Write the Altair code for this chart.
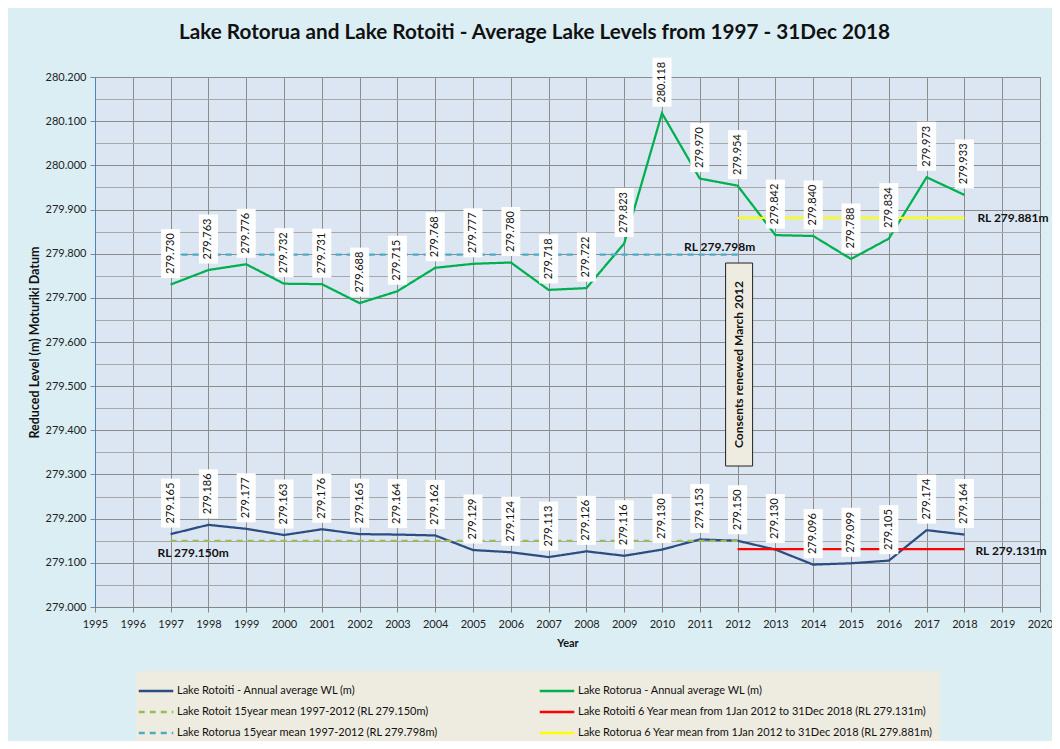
import altair as alt
import pandas as pd

# ---------------- data ----------------
years = list(range(1997, 2019))
rotorua = [279.730, 279.763, 279.776, 279.732, 279.731, 279.688, 279.715, 279.768,
           279.777, 279.780, 279.718, 279.722, 279.823, 280.118, 279.970, 279.954,
           279.842, 279.840, 279.788, 279.834, 279.973, 279.933]
rotoiti = [279.165, 279.186, 279.177, 279.163, 279.176, 279.165, 279.164, 279.162,
           279.129, 279.124, 279.113, 279.126, 279.116, 279.130, 279.153, 279.150,
           279.130, 279.096, 279.099, 279.105, 279.174, 279.164]

mean15_years = [1997, 2012]
mean6_years = [2012, 2018]
rotoiti_mean15 = 279.150
rotorua_mean15 = 279.798
rotoiti_mean6 = 279.131
rotorua_mean6 = 279.881

# legend order (filled column by column)
series_names = [
    "Lake Rotoiti - Annual average WL (m)",
    "Lake Rotoit 15year mean 1997-2012 (RL 279.150m)",
    "Lake Rotorua 15year mean 1997-2012 (RL 279.798m)",
    "Lake Rotorua - Annual average WL (m)",
    "Lake Rotoiti 6 Year mean from 1Jan 2012 to 31Dec 2018 (RL 279.131m)",
    "Lake Rotorua 6 Year mean from 1Jan 2012 to 31Dec 2018 (RL 279.881m)",
]
series_colors = ["#2C4D80", "#9BBB59", "#4BACC6", "#00B050", "#FF0000", "#FFFF00"]
series_dashes = [[1, 0], [6, 5], [6, 5], [1, 0], [1, 0], [1, 0]]

note_year = 2012
note_level = 279.549
note_text = "Consents  renewed  March 2012"
title_text = "Lake Rotorua and Lake Rotoiti  - Average Lake Levels  from 1997 - 31Dec 2018"

# ---------------- tables ----------------
rows = []
def add(name, xs, ys):
    for xv, yv in zip(xs, ys):
        rows.append({"series": name, "year": xv, "level": yv})

add(series_names[0], years, rotoiti)
add(series_names[3], years, rotorua)
add(series_names[1], mean15_years, [rotoiti_mean15] * 2)
add(series_names[4], mean6_years, [rotoiti_mean6] * 2)
add(series_names[2], mean15_years, [rotorua_mean15] * 2)
add(series_names[5], mean6_years, [rotorua_mean6] * 2)
lines_df = pd.DataFrame(rows)

labels_df = pd.DataFrame({
    "year": years + years,
    "level": rotorua + rotoiti,
})
labels_df["label"] = labels_df["level"].map(lambda v: f"{v:.3f}")

# ---------------- scales / axes ----------------
major_test = "round(datum.value*1000) % 100 == 0"
y_ticks = [round(279.0 + 0.05 * i, 2) for i in range(25)]

x_enc = alt.X(
    "year:Q",
    scale=alt.Scale(domain=[1995, 2020], nice=False, zero=False),
    axis=alt.Axis(
        values=list(range(1995, 2021)), format="d", title="Year",
        titleFontWeight="bold", titleFontSize=11, titlePadding=8,
        labelFontSize=11, labelPadding=6, tickSize=5, labelOverlap=False, labelFlush=False,
        labelBound=False, gridColor="#8C8C8C", domainColor="#868686", tickColor="#868686",
    ),
)
y_enc = alt.Y(
    "level:Q",
    scale=alt.Scale(domain=[279.0, 280.2], nice=False, zero=False),
    axis=alt.Axis(
        values=y_ticks,
        labelExpr=f"{major_test} ? format(datum.value, '.3f') : ''",
        title="Reduced  Level (m) Moturiki Datum",
        titleFontWeight="bold", titleFontSize=12.5, titlePadding=4,
        labelFontSize=11, labelPadding=4, tickSize=5, labelOverlap=False,
        domainColor="#4F81BD",
        tickColor={"condition": {"test": major_test, "value": "#868686"}, "value": "transparent"},
        gridColor={"condition": {"test": major_test, "value": "#8C8C8C"}, "value": "#A8A8A8"},
    ),
)

lines = alt.Chart(lines_df).mark_line(strokeWidth=2.25).encode(
    x=x_enc,
    y=y_enc,
    color=alt.Color("series:N", scale=alt.Scale(domain=series_names, range=series_colors),
                    legend=alt.Legend(title=None)),
    strokeDash=alt.StrokeDash("series:N", scale=alt.Scale(domain=series_names, range=series_dashes),
                              legend=alt.Legend(title=None)),
)

label_boxes = alt.Chart(labels_df).mark_rect(fill="white", width=19, height=49, yOffset=-31).encode(
    x=x_enc, y=y_enc
)
label_text = alt.Chart(labels_df).mark_text(
    angle=270, fontSize=11, font="Lato", align="center", baseline="middle", yOffset=-31, color="#111"
).encode(x=x_enc, y=y_enc, text="label:N")

def rl_note(year, level, text, align, xoff, yoff):
    df = pd.DataFrame({"year": [year], "level": [level], "t": [text]})
    return alt.Chart(df).mark_text(
        font="Lato", fontSize=12, fontWeight="bold", align=align, baseline="middle",
        xOffset=xoff, yOffset=yoff, color="#111"
    ).encode(x=x_enc, y=y_enc, text="t:N")

notes = [
    rl_note(mean15_years[1], rotorua_mean15, f"RL {rotorua_mean15:.3f}m", "center", -18, -8),
    rl_note(mean6_years[1], rotorua_mean6, f"RL {rotorua_mean6:.3f}m", "left", 13, 0),
    rl_note(mean15_years[0], rotoiti_mean15, f"RL {rotoiti_mean15:.3f}m", "left", -13, 12),
    rl_note(mean6_years[1], rotoiti_mean6, f"RL {rotoiti_mean6:.3f}m", "left", 11, 2),
]

note_df = pd.DataFrame({"year": [note_year], "level": [note_level], "t": [note_text]})
note_box = alt.Chart(note_df).mark_rect(
    fill="#EEECE1", stroke="#222", strokeWidth=1, width=27, height=203, xOffset=1.5
).encode(x=x_enc, y=y_enc)
note_label = alt.Chart(note_df).mark_text(
    angle=270, font="Lato", fontSize=12, fontWeight="bold", align="center", baseline="middle",
    xOffset=1.5, color="#111"
).encode(x=x_enc, y=y_enc, text="t:N")

chart = alt.layer(lines, label_boxes, label_text, *notes, note_box, note_label).properties(
    width=945, height=530,
    autosize=alt.AutoSizeParams(type="none"),
    padding={"left": 87, "top": 69, "right": 12, "bottom": 134},
    title=alt.TitleParams(title_text, fontSize=20.7, font="Lato", fontWeight="bold",
                          anchor="middle", offset=14, dx=-33, color="#111"),
    background="#DBEEF4",
).configure_view(
    fill="#DCE6F2", stroke="#8C8C8C"
).configure_axis(
    labelFont="Lato", titleFont="Lato", labelColor="#222", titleColor="#111", gridWidth=1
).configure_legend(
    orient="none", legendX=41, legendY=594, columns=2, columnPadding=96, rowPadding=3,
    symbolType="M-1.5,0H1.5", symbolSize=529, symbolStrokeWidth=2.5, labelFontSize=11,
    labelFont="Lato", labelColor="#111", labelLimit=0, fillColor="#EEECE1", padding=7,
    labelOffset=8,
)

chart.save("out.html", embed_options={"renderer": "svg", "actions": False})
